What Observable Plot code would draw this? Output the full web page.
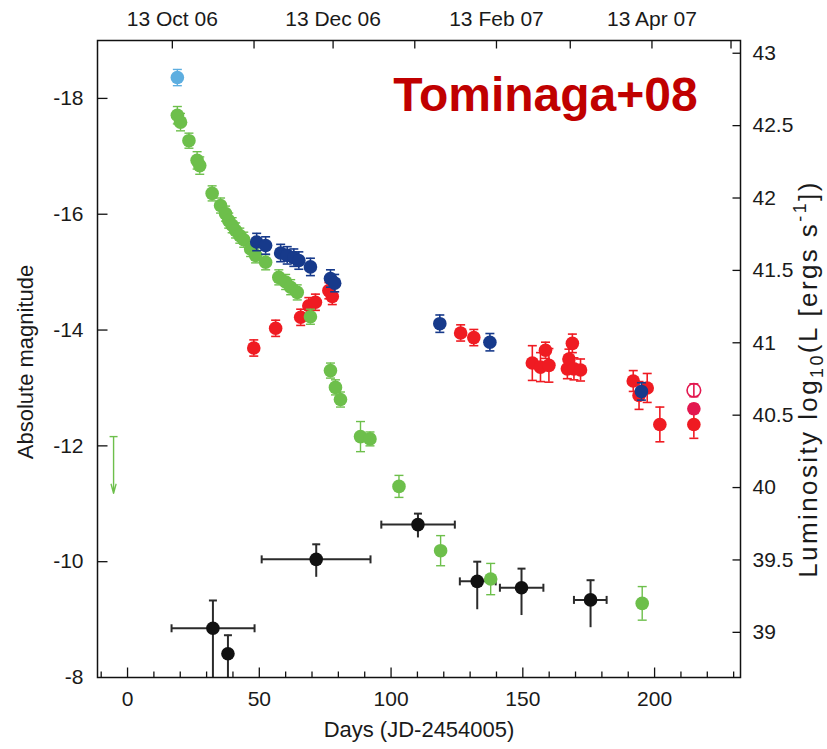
<!DOCTYPE html>
<html>
<head>
<meta charset="utf-8">
<script src="https://cdn.jsdelivr.net/npm/d3@7"></script>
<script src="https://cdn.jsdelivr.net/npm/@observablehq/plot@0.6"></script>
<style>
  body { margin: 0; background: #fff; }
  #chart svg { display: block; }
</style>
</head>
<body>
<div id="chart"></div>
<script>
// SN 2006jc light curve: days since JD 2454005 vs absolute magnitude

// Optical (green) photometry
const greenDay = [18.9, 20.1, 23.3, 26.4, 27.4, 32.1, 35.3, 37.2, 38.4, 39.7, 41.0, 42.6, 44.1, 46.7, 48.6, 52.4, 57.4, 60.0, 61.9, 64.4, 69.4, 77.0, 78.9, 80.8, 88.4, 92.0, 103.0, 118.8, 137.8, 195.3];
const greenMag = [-17.71, -17.59, -17.27, -16.93, -16.84, -16.36, -16.15, -16.01, -15.89, -15.81, -15.72, -15.63, -15.56, -15.40, -15.29, -15.17, -14.91, -14.83, -14.74, -14.65, -14.23, -13.30, -13.01, -12.80, -12.16, -12.12, -11.30, -10.19, -9.70, -9.28];
const greenErr = [0.15, 0.15, 0.13, 0.15, 0.15, 0.13, 0.13, 0.13, 0.13, 0.13, 0.13, 0.13, 0.13, 0.13, 0.13, 0.13, 0.13, 0.13, 0.13, 0.13, 0.13, 0.13, 0.13, 0.13, 0.26, 0.12, 0.19, 0.26, 0.27, 0.29];

// Early upper limit
const limitDay = [-5.3];
const limitMag = [-12.16];
const limitEnd = [-11.18];

// Earliest (light blue) point
const cyanDay = [18.9];
const cyanMag = [-18.36];
const cyanErr = [0.14];

// Dark blue photometry
const blueDay = [49.0, 52.4, 58.1, 60.6, 63.1, 65.0, 69.4, 77.0, 78.6, 118.5, 137.5, 195.0];
const blueMag = [-15.52, -15.46, -15.33, -15.29, -15.25, -15.20, -15.09, -14.89, -14.81, -14.11, -13.79, -12.94];
const blueErr = [0.15, 0.15, 0.15, 0.15, 0.15, 0.15, 0.15, 0.15, 0.15, 0.15, 0.15, 0.15];

// Red (near-infrared) photometry
const redDay = [47.9, 56.2, 65.7, 68.8, 71.3, 76.4, 77.7, 126.4, 131.4, 153.6, 156.7, 158.6, 159.9, 166.9, 167.5, 168.8, 169.4, 171.9, 191.9, 194.1, 197.2, 202.0, 214.9];
const redMag = [-13.69, -14.03, -14.22, -14.42, -14.48, -14.68, -14.58, -13.95, -13.87, -13.43, -13.36, -13.65, -13.39, -13.33, -13.50, -13.77, -13.33, -13.31, -13.12, -12.87, -13.00, -12.37, -12.37];
const redErr = [0.14, 0.14, 0.14, 0.14, 0.14, 0.14, 0.14, 0.14, 0.14, 0.30, 0.25, 0.14, 0.29, 0.17, 0.17, 0.16, 0.19, 0.19, 0.18, 0.24, 0.25, 0.30, 0.24];

// Late crimson points (filled and open)
const pinkDay = [214.9];
const pinkMag = [-12.64];
const pinkErr = [0.08];
const openDay = [214.9];
const openMag = [-12.96];
const openErr = [0.11];

// Black points with time bins
const blackDay = [32.4, 38.1, 71.6, 110.2, 132.7, 149.5, 175.7];
const blackMag = [-8.85, -8.41, -10.04, -10.64, -9.66, -9.55, -9.34];
const blackMagHi = [-9.33, -8.73, -10.30, -10.83, -10.00, -9.88, -9.68];
const blackMagLo = [-8.00, -8.00, -9.73, -10.41, -9.17, -9.07, -8.86];
const blackDayLo = [16.7, null, 50.9, 96.3, 126.1, 141.3, 169.4];
const blackDayHi = [48.2, null, 92.2, 124.2, 139.7, 157.8, 181.8];

// Axes
const xDomain = [-11.4, 232.6];
const yDomain = [-8, -19];
const dayTicks = [0, 50, 100, 150, 200];
const dayMinor = d3.range(-10, 231, 10).filter(d => d % 50 !== 0);
const magTicks = [-18, -16, -14, -12, -10, -8];
const dateTicks = [17, 78, 140, 199];
const dateLabels = ["13 Oct 06", "13 Dec 06", "13 Feb 07", "13 Apr 07"];
const monthTicks = [17, 48, 78, 109, 140, 168, 199, 229];
const lumTicks = [43, 42.5, 42, 41.5, 41, 40.5, 40, 39.5, 39];
// log L = 43 corresponds to M = -18.78; 1 dex = 2.5 mag
const lumToMag = L => -18.78 + 2.5 * (43 - L);

const C = {
  green: "#6dbf4b",
  blue: "#173a8b",
  red: "#ef1b22",
  pink: "#e3174f",
  cyan: "#5daee0",
  black: "#111111",
  bar: "#2b2b2b",
  title: "#c00000"
};

const rows = (days, mags, errs) => days.map((d, i) => ({day: d, mag: mags[i], err: errs[i]}));
const green = rows(greenDay, greenMag, greenErr);
const blue = rows(blueDay, blueMag, blueErr);
const red = rows(redDay, redMag, redErr);
const cyan = rows(cyanDay, cyanMag, cyanErr);
const pink = rows(pinkDay, pinkMag, pinkErr);
const open = rows(openDay, openMag, openErr);
const black = blackDay.map((d, i) => ({day: d, mag: blackMag[i], hi: blackMagHi[i], lo: blackMagLo[i], dlo: blackDayLo[i], dhi: blackDayHi[i]}));
const blackX = black.filter(d => d.dlo != null);
const limit = limitDay.map((d, i) => ({day: d, mag: limitMag[i], end: limitEnd[i]}));

// Line-shaped symbols (half-length = r) for error-bar caps and axis ticks
const seg = (x1, y1, x2, y2) => ({draw(c, s) { const r = Math.sqrt(s / Math.PI); c.moveTo(x1 * r, y1 * r); c.lineTo(x2 * r, y2 * r); }});
const hCap = seg(-1, 0, 1, 0);
const vCap = seg(0, -1, 0, 1);
const tickUp = seg(0, 0, 0, -1);
const tickDown = seg(0, 0, 0, 1);
const tickRight = seg(0, 0, 1, 0);
const tickLeft = seg(0, 0, -1, 0);

function errorBars(data, color, width, capR) {
  return [
    Plot.ruleX(data, {x: "day", y1: d => d.mag - d.err, y2: d => d.mag + d.err, stroke: color, strokeWidth: width}),
    Plot.dot(data, {x: "day", y: d => d.mag - d.err, symbol: hCap, r: capR, stroke: color, fill: "none", strokeWidth: width}),
    Plot.dot(data, {x: "day", y: d => d.mag + d.err, symbol: hCap, r: capR, stroke: color, fill: "none", strokeWidth: width})
  ];
}

const R = 6.8;

const chart = Plot.plot({
  width: 827,
  height: 749,
  marginLeft: 97,
  marginRight: 87,
  marginTop: 40,
  marginBottom: 72,
  style: {fontFamily: "'Liberation Sans', Arial, Helvetica, sans-serif", fontSize: "21px", color: "#1a1a1a", background: "#fff"},
  x: {domain: xDomain},
  y: {domain: yDomain},
  marks: [
    // black binned points
    Plot.ruleY(blackX, {y: "mag", x1: "dlo", x2: "dhi", stroke: C.bar, strokeWidth: 2}),
    Plot.dot(blackX, {x: "dlo", y: "mag", symbol: vCap, r: 4, stroke: C.bar, fill: "none", strokeWidth: 2}),
    Plot.dot(blackX, {x: "dhi", y: "mag", symbol: vCap, r: 4, stroke: C.bar, fill: "none", strokeWidth: 2}),
    Plot.ruleX(black, {x: "day", y1: "lo", y2: "hi", stroke: C.bar, strokeWidth: 2}),
    Plot.dot(black, {x: "day", y: "hi", symbol: hCap, r: 4, stroke: C.bar, fill: "none", strokeWidth: 2}),
    Plot.dot(black.filter(d => d.lo > -8), {x: "day", y: "lo", symbol: hCap, r: 4, stroke: C.bar, fill: "none", strokeWidth: 2}),
    Plot.dot(black, {x: "day", y: "mag", r: R, fill: C.black}),

    // red
    ...errorBars(red, C.red, 1.6, 4.5),
    Plot.dot(red, {x: "day", y: "mag", r: R, fill: C.red}),
    ...errorBars(pink, C.pink, 1.6, 4.5),
    Plot.dot(pink, {x: "day", y: "mag", r: R, fill: C.pink}),
    ...errorBars(open, C.pink, 1.6, 4.5),
    Plot.dot(open, {x: "day", y: "mag", r: R, fill: "none", stroke: C.pink, strokeWidth: 1.6}),

    // green
    ...errorBars(green, C.green, 1.4, 4.5),
    Plot.dot(green, {x: "day", y: "mag", r: R, fill: C.green}),
    Plot.arrow(limit, {x1: "day", x2: "day", y1: "mag", y2: "end", stroke: C.green, strokeWidth: 1.4, headLength: 10, headAngle: 30}),
    Plot.dot(limit, {x: "day", y: "mag", symbol: hCap, r: 4, stroke: C.green, fill: "none", strokeWidth: 1.4}),

    // dark blue
    ...errorBars(blue, C.blue, 1.6, 4.5),
    Plot.dot(blue, {x: "day", y: "mag", r: R, fill: C.blue}),

    // light blue
    ...errorBars(cyan, C.cyan, 1.4, 4.5),
    Plot.dot(cyan, {x: "day", y: "mag", r: R, fill: C.cyan}),

    // frame and inward ticks
    Plot.frame({stroke: "#111", strokeWidth: 1.5}),
    Plot.dot(dayMinor, {x: d => d, y: yDomain[0], symbol: tickUp, r: 6, stroke: "#111", fill: "none", strokeWidth: 1.3}),
    Plot.dot(dayTicks, {x: d => d, y: yDomain[0], symbol: tickUp, r: 10, stroke: "#111", fill: "none", strokeWidth: 1.3}),
    Plot.dot(monthTicks, {x: d => d, y: yDomain[1], symbol: tickDown, r: 8, stroke: "#111", fill: "none", strokeWidth: 1.3}),
    Plot.dot(magTicks.slice(0, -1), {x: xDomain[0], y: d => d, symbol: tickRight, r: 10, stroke: "#111", fill: "none", strokeWidth: 1.3}),
    Plot.dot(lumTicks, {x: xDomain[1], y: lumToMag, symbol: tickLeft, r: 8, stroke: "#111", fill: "none", strokeWidth: 1.3}),

    // tick labels
    Plot.axisX(dayTicks, {anchor: "bottom", tickSize: 0, tickPadding: 14, tickFormat: d => String(d), label: null}),
    Plot.axisX(dateTicks, {anchor: "top", tickSize: 0, tickPadding: 15, tickFormat: (d, i) => dateLabels[i], label: null}),
    Plot.axisY(magTicks, {anchor: "left", tickSize: 0, tickPadding: 14, tickFormat: d => String(d), label: null}),
    Plot.axisY(lumTicks.map(lumToMag), {anchor: "right", tickSize: 0, tickPadding: 12, tickFormat: (d, i) => String(lumTicks[i]), label: null}),

    // label
    Plot.text(["Tominaga+08"], {x: 100.8, y: -17.79, text: d => d, textAnchor: "start", lineAnchor: "bottom", fontSize: 48, fontWeight: "bold", fill: C.title})
  ]
});

document.getElementById("chart").appendChild(chart);

// axis titles
const svg = d3.select(chart);
svg.append("text")
  .attr("transform", "translate(33,362) rotate(-90)")
  .attr("text-anchor", "middle")
  .attr("font-size", 22)
  .attr("fill", "#1a1a1a")
  .text("Absolute magnitude");
svg.append("text")
  .attr("x", 419).attr("y", 737)
  .attr("text-anchor", "middle")
  .attr("font-size", 22)
  .attr("fill", "#1a1a1a")
  .text("Days (JD-2454005)");
const lum = svg.append("text")
  .attr("transform", "translate(817,379) rotate(-90)")
  .attr("text-anchor", "middle")
  .attr("font-size", 26)
  .attr("letter-spacing", 2.4)
  .attr("fill", "#1a1a1a");
lum.append("tspan").text("Luminosity log");
lum.append("tspan").attr("font-size", 18).attr("dy", 6).text("10");
lum.append("tspan").attr("dy", -6).text("(L [ergs s");
lum.append("tspan").attr("font-size", 18).attr("dy", -11).text("-1");
lum.append("tspan").attr("dy", 11).text("])");
</script>
</body>
</html>
